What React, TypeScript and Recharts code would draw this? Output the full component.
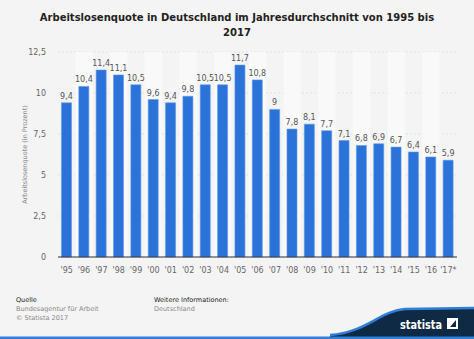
import React from "react";
import {
  BarChart,
  Bar,
  XAxis,
  YAxis,
  CartesianGrid,
  LabelList,
  ReferenceArea,
} from "recharts";

const years = ["'95", "'96", "'97", "'98", "'99", "'00", "'01", "'02", "'03", "'04", "'05", "'06", "'07", "'08", "'09", "'10", "'11", "'12", "'13", "'14", "'15", "'16", "'17*"];
const rates = [9.4, 10.4, 11.4, 11.1, 10.5, 9.6, 9.4, 9.8, 10.5, 10.5, 11.7, 10.8, 9, 7.8, 8.1, 7.7, 7.1, 6.8, 6.9, 6.7, 6.4, 6.1, 5.9];
const yTicks = [0, 2.5, 5, 7.5, 10, 12.5];

const data = years.map((y, i) => ({ year: y, rate: rates[i] }));
const FONT = "'DejaVu Sans', Verdana, sans-serif";
const fmt = (v: number) => String(v).replace(".", ",");

export default function App() {
  return (
    <div
      style={{
        position: "absolute",
        left: 0,
        top: 0,
        width: 474,
        height: 339,
        background: "#f4f4f4",
        overflow: "hidden",
        fontFamily: FONT,
      }}
    >
      <div
        style={{
          position: "absolute",
          top: 10,
          left: 0,
          width: 474,
          textAlign: "center",
          fontWeight: "bold",
          fontSize: 10,
          lineHeight: "15px",
          color: "#222",
        }}
      >
        Arbeitslosenquote in Deutschland im Jahresdurchschnitt von 1995 bis
        <br />
        2017
      </div>
      <div style={{ position: "absolute", left: 0, top: 0 }}>
        <BarChart
          width={474}
          height={290}
          data={data}
          margin={{ top: 52, right: 17, bottom: 3, left: 0 }}
          barCategoryGap="20%"
        >
          {years.map((y, i) =>
            i % 2 === 1 ? (
              <ReferenceArea
                key={y}
                x1={y}
                x2={y}
                y1={0}
                y2={12.5}
                fill="#f9f9f9"
                fillOpacity={1}
                stroke="none"
                ifOverflow="visible"
              />
            ) : null
          )}
          <CartesianGrid
            vertical={false}
            stroke="#e2e2e2"
            strokeDasharray="2 2"
          />
          <XAxis
            dataKey="year"
            height={30}
            tickLine={false}
            axisLine={{ stroke: "#333", strokeWidth: 1 }}
            tick={{ fontSize: 8, fill: "#666", fontFamily: FONT }}
            interval={0}
            tickMargin={4}
          />
          <YAxis
            width={58}
            domain={[0, 12.5]}
            ticks={yTicks}
            tickFormatter={fmt}
            axisLine={false}
            tickLine={false}
            tickSize={10}
            tick={{ fontSize: 8, fill: "#666", fontFamily: FONT }}
            label={{
              value: "Arbeitslosenquote (in Prozent)",
              angle: -90,
              position: "center",
              dx: -4,
              style: { fontSize: 6.5, fill: "#888", fontFamily: FONT },
            }}
          />
          <Bar
            dataKey="rate"
            fill="#2b73d9"
            stroke="#5c97e6"
            strokeWidth={0.6}
            isAnimationActive={false}
          >
            <LabelList
              dataKey="rate"
              position="top"
              offset={4}
              formatter={(v: number) => fmt(v)}
              style={{ fontSize: 8, fill: "#555", fontFamily: FONT }}
            />
          </Bar>
        </BarChart>
      </div>
      <div style={{ position: "absolute", left: 16, top: 296, fontSize: 6.5, lineHeight: "9px" }}>
        <div style={{ color: "#222" }}>Quelle</div>
        <div style={{ color: "#888" }}>Bundesagentur für Arbeit</div>
        <div style={{ color: "#888" }}>© Statista 2017</div>
      </div>
      <div style={{ position: "absolute", left: 154, top: 296, fontSize: 6.5, lineHeight: "9px" }}>
        <div style={{ color: "#222" }}>Weitere Informationen:</div>
        <div style={{ color: "#888" }}>Deutschland</div>
      </div>
      <svg
        width={474}
        height={339}
        style={{ position: "absolute", left: 0, top: 0, pointerEvents: "none" }}
      >
        <path
          d="M 330 339 L 330 335 C 365 333 380 311 405 309 L 474 308 L 474 339 Z"
          fill="#0f2a44"
        />
        <path
          d="M 330 335 C 365 333 380 311 405 309 L 474 308"
          fill="none"
          stroke="#2f7ed8"
          strokeWidth={2.5}
        />
        <rect x={0} y={336.5} width={474} height={2.5} fill="#2f7ed8" />
        <text
          x={400}
          y={329}
          fill="#fff"
          fontSize={12.5}
          fontWeight="bold"
          fontFamily="'Liberation Sans Narrow', 'DejaVu Sans Condensed', sans-serif"
          textLength={42}
          lengthAdjust="spacingAndGlyphs"
        >
          statista
        </text>
        <path d="M 447 318 L 458 318 L 458 329 L 447 329 Z M 450 327 L 456 320 L 456 327 Z" fill="#fff" fillRule="evenodd" />
      </svg>
    </div>
  );
}
